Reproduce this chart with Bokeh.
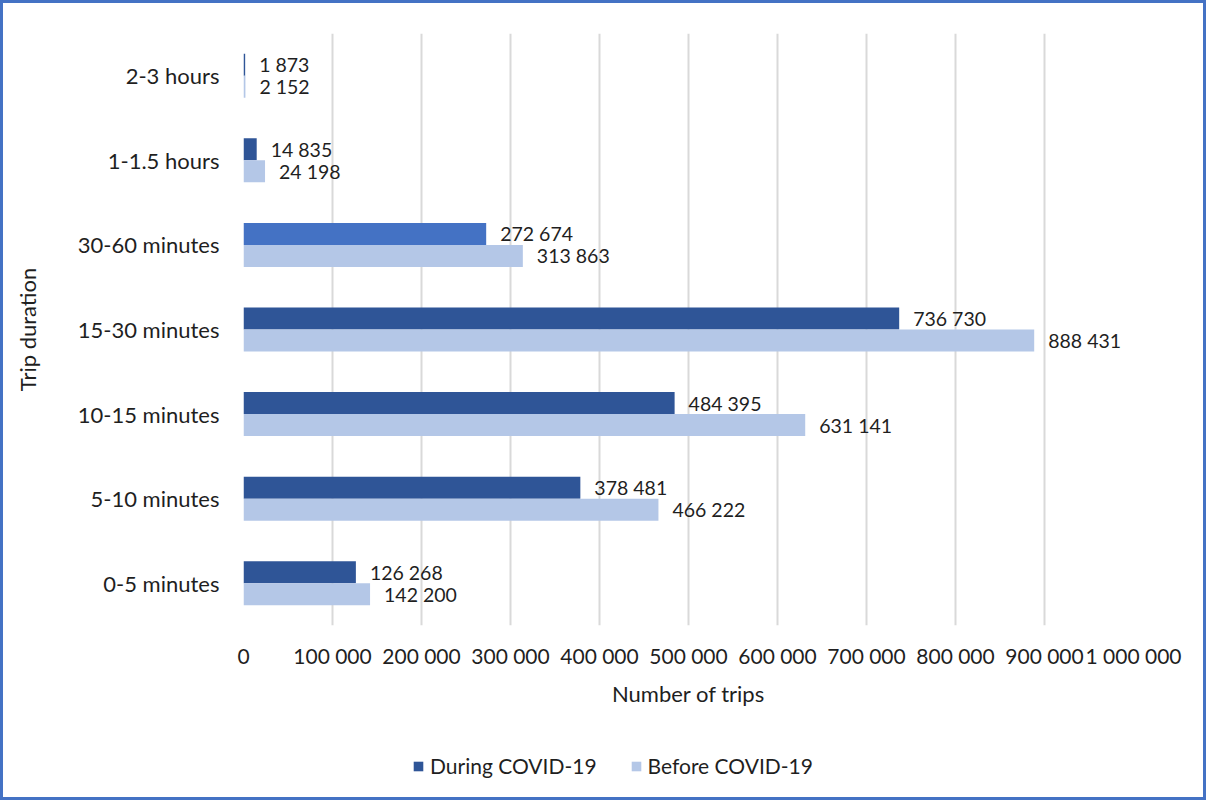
from bokeh.plotting import figure
from bokeh.layouts import column
from bokeh.models import ColumnDataSource, FactorRange, Range1d, Legend, LegendItem, CustomJSTickFormatter, FixedTicker
from bokeh.transform import dodge
from bokeh.core.properties import value
from bokeh.embed import file_html
from bokeh.resources import INLINE

categories = ["0-5 minutes", "5-10 minutes", "10-15 minutes", "15-30 minutes",
              "30-60 minutes", "1-1.5 hours", "2-3 hours"]
during = [126268, 378481, 484395, 736730, 272674, 14835, 1873]
before = [142200, 466222, 631141, 888431, 313863, 24198, 2152]
during_colors = ["#2F5597", "#2F5597", "#2F5597", "#2F5597", "#4472C4", "#2F5597", "#2F5597"]
series_names = ["During COVID-19", "Before COVID-19"]
series_colors = ["#2F5597", "#B4C7E7"]
x_ticks = [0, 100000, 200000, 300000, 400000, 500000, 600000, 700000, 800000, 900000, 1000000]

def fmt(v):
    return f"{v:,}".replace(",", " ")

src = ColumnDataSource(dict(
    cat=categories,
    during=during,
    before=before,
    dcol=during_colors,
    dlbl=[fmt(v) for v in during],
    blbl=[fmt(v) for v in before],
))

FONT = "Lato"
TXT = "#1f1f1f"

p = figure(width=1200, height=720,
           y_range=FactorRange(factors=categories, range_padding=0),
           x_range=Range1d(0, 1000000),
           output_backend="svg", toolbar_location=None,
           min_border_left=240, min_border_right=70,
           min_border_top=30, min_border_bottom=98)
p.outline_line_color = None

off = 0.13
bh = 0.26
r_d = p.hbar(y=dodge("cat", off, range=p.y_range), right="during", left=0, height=bh,
             fill_color="dcol", line_color=None, source=src)
r_b = p.hbar(y=dodge("cat", -off, range=p.y_range), right="before", left=0, height=bh,
             fill_color=series_colors[1], line_color=None, source=src)

p.text(x="during", y=dodge("cat", off, range=p.y_range), text="dlbl", source=src,
       x_offset=14, text_align="left", text_baseline="middle",
       text_font=value(FONT), text_font_size="19.5px", text_color=TXT)
p.text(x="before", y=dodge("cat", -off, range=p.y_range), text="blbl", source=src,
       x_offset=14, text_align="left", text_baseline="middle",
       text_font=value(FONT), text_font_size="19.5px", text_color=TXT)

p.ygrid.visible = False
p.xgrid.grid_line_color = "#D9D9D9"
p.xgrid.grid_line_width = 2
p.xaxis.ticker = FixedTicker(ticks=x_ticks)
p.xaxis.formatter = CustomJSTickFormatter(code="return tick.toLocaleString('en-US').replace(/,/g, ' ');")

for ax in (p.xaxis[0], p.yaxis[0]):
    ax.axis_line_color = None
    ax.major_tick_line_color = None
    ax.minor_tick_line_color = None
    ax.major_tick_out = 0
    ax.major_tick_in = 0
    ax.major_label_text_font = FONT
    ax.major_label_text_font_size = "21px"
    ax.major_label_text_color = TXT
    ax.axis_label_text_font = FONT
    ax.axis_label_text_font_size = "22px"
    ax.axis_label_text_font_style = "normal"
    ax.axis_label_text_color = TXT

p.yaxis.major_label_text_font_size = "22px"
p.xaxis.axis_label = "Number of trips"
p.xaxis.major_label_standoff = 17
p.xaxis.axis_label_standoff = 9
p.yaxis.axis_label = "Trip duration"
p.yaxis.major_label_standoff = 24
p.yaxis.axis_label_standoff = 34

# legend strip (frame is aligned with the main plot's frame)
lf = figure(width=1200, height=74, output_backend="svg", toolbar_location=None,
            min_border=0, x_range=Range1d(0, 1), y_range=Range1d(0, 1))
lf.outline_line_color = None
lf.axis.visible = False
lf.grid.visible = False
lr = []
for c in series_colors:
    lr.append(lf.hbar(y=[0.5], right=[0], left=[0], height=0, fill_color=c, line_color=None))

legend = Legend(items=[LegendItem(label=n, renderers=[r]) for n, r in zip(series_names, lr)],
                orientation="horizontal", location=(169, 19),
                padding=0, margin=0, spacing=33, label_standoff=6,
                glyph_width=12, glyph_height=12,
                border_line_color=None, background_fill_alpha=0,
                label_text_font=FONT, label_text_font_size="21px", label_text_color=TXT)
lf.add_layout(legend, "center")

layout = column(p, lf, spacing=0, styles={"border": "3px solid #4472C4"})

open("out.html", "w").write(file_html(layout, INLINE))
